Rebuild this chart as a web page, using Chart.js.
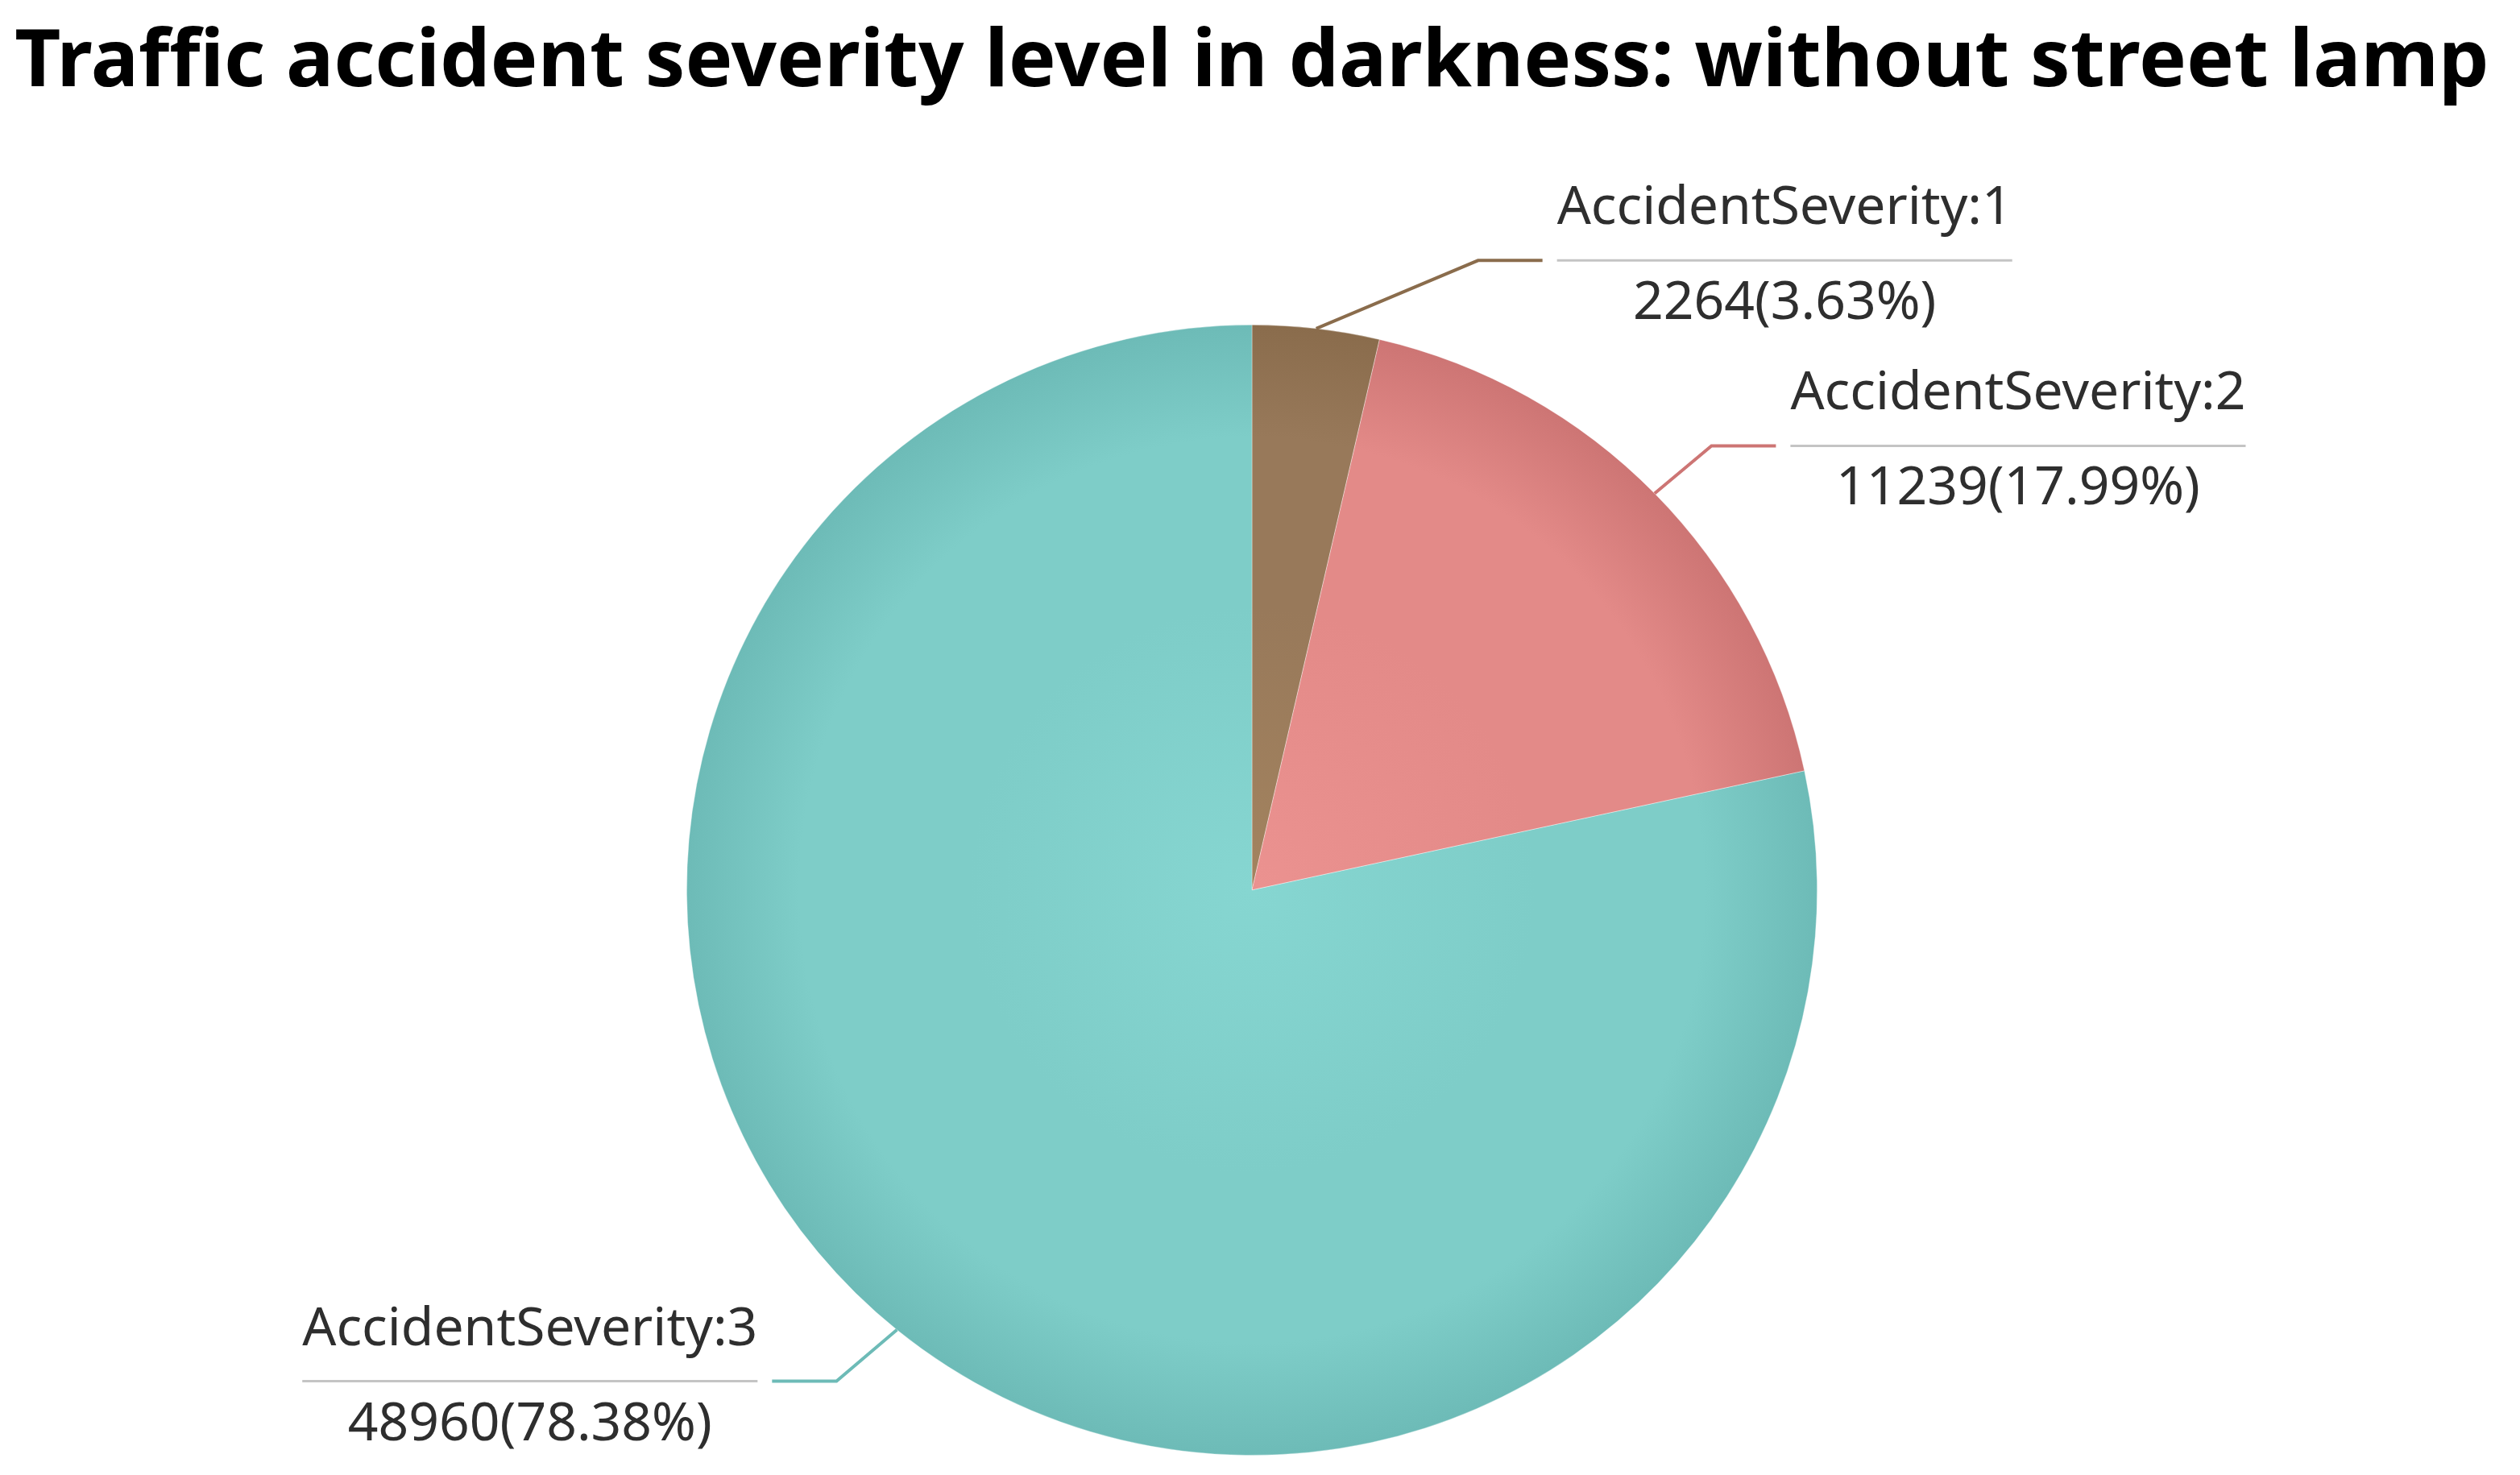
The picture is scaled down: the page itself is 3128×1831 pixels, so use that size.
<!DOCTYPE html>
<html>
<head>
<meta charset="utf-8">
<script src="https://cdn.jsdelivr.net/npm/chart.js@4"></script>
<style>
  html, body { margin: 0; padding: 0; background: #fff; overflow: hidden; }
  canvas { display: block; }
</style>
</head>
<body>
<canvas id="pieChart" width="3128" height="1831"></canvas>
<script>
// data
const categories = ['AccidentSeverity:1', 'AccidentSeverity:2', 'AccidentSeverity:3'];
const counts = [2264, 11239, 48960];
const percentLabels = ['3.63%', '17.99%', '78.38%'];

// slice colours: light (centre), base, dark (edge)
const sliceColors = [
    ['#a3835f', '#98795a', '#8a6c4c'],
    ['#eb9290', '#e38a88', '#cd7574'],
    ['#86d6d1', '#7ecdc8', '#6dbbb7']
];

// where each label's elbow sits, relative to the pie centre in radius units
const labelLayout = [
    { ex: 0.400, ey: -1.114, side: 1 },
    { ex: 0.813, ey: -0.786, side: 1 },
    { ex: -0.735, ey: 0.869, side: -1 }
];

function sliceFill(context) {
    var c = sliceColors[context.dataIndex];
    var area = context.chart.chartArea;
    if (!area) return c[1];
    var cx = (area.left + area.right) / 2;
    var cy = (area.top + area.bottom) / 2;
    var r = Math.min(area.right - area.left, area.bottom - area.top) / 2;
    var g = context.chart.ctx.createRadialGradient(cx, cy, 0, cx, cy, r);
    g.addColorStop(0, c[0]);
    g.addColorStop(0.5, c[1]);
    g.addColorStop(0.8, c[1]);
    g.addColorStop(1, c[2]);
    return g;
}

const leaderLabels = {
    id: 'leaderLabels',
    afterDatasetsDraw(chart) {
        var ctx = chart.ctx;
        var meta = chart.getDatasetMeta(0);
        ctx.save();
        ctx.font = '66px "Noto Sans"';
        meta.data.forEach(function (arc, i) {
            var lay = labelLayout[i];
            var r = arc.outerRadius;
            var mid = (arc.startAngle + arc.endAngle) / 2;
            var px = arc.x + Math.cos(mid) * r;
            var py = arc.y + Math.sin(mid) * r;
            var elx = arc.x + lay.ex * r;
            var ely = arc.y + lay.ey * r;
            var endx = elx + lay.side * 80;

            // leader line in the slice colour
            ctx.strokeStyle = sliceColors[i][2];
            ctx.lineWidth = 4;
            ctx.beginPath();
            ctx.moveTo(px, py);
            ctx.lineTo(elx, ely);
            ctx.lineTo(endx, ely);
            ctx.stroke();

            // underline
            var w = ctx.measureText(categories[i]).width;
            var x0 = lay.side > 0 ? endx + 18 : endx - 18 - w;
            ctx.strokeStyle = '#c4c4c4';
            ctx.lineWidth = 3;
            ctx.beginPath();
            ctx.moveTo(x0, ely);
            ctx.lineTo(x0 + w, ely);
            ctx.stroke();

            // texts
            ctx.fillStyle = '#2e2e2e';
            ctx.textAlign = 'center';
            ctx.textBaseline = 'alphabetic';
            ctx.fillText(categories[i], x0 + w / 2, ely - 45);
            ctx.fillText(counts[i] + '(' + percentLabels[i] + ')', x0 + w / 2, ely + 73);
        });
        ctx.restore();
    }
};

var ctx = document.getElementById('pieChart').getContext('2d');

var myChart = new Chart(ctx, {
    type: 'pie',
    data: {
        labels: categories,
        datasets: [{
            data: counts,
            backgroundColor: sliceFill,
            borderWidth: 1,
            borderColor: 'rgba(255,255,255,0.35)'
        }]
    },
    options: {
        responsive: false,
        animation: false,
        devicePixelRatio: 1,
        layout: {
            padding: { top: 0, left: 0, right: 20, bottom: 24 }
        },
        plugins: {
            legend: { display: false },
            tooltip: { enabled: false },
            title: {
                display: true,
                text: 'Traffic accident severity level in darkness: without street lamp',
                color: '#000',
                font: { family: '"Noto Sans"', size: 99, weight: 'bold' },
                padding: { top: 19, bottom: 265 }
            }
        }
    },
    plugins: [leaderLabels]
});
</script>
</body>
</html>
